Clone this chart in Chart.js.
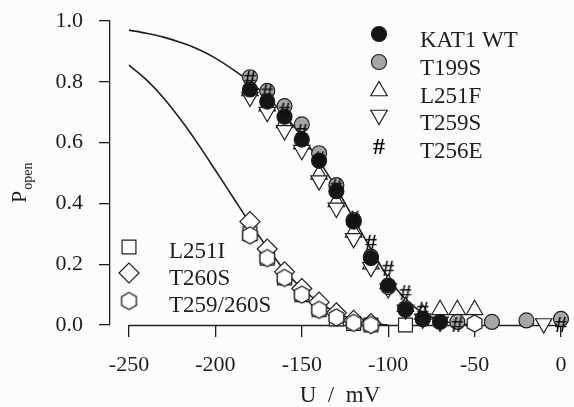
<!DOCTYPE html>
<html>
<head>
<meta charset="utf-8">
<script src="https://cdn.jsdelivr.net/npm/chart.js@4.4.0/dist/chart.umd.min.js"></script>
<style>
  html, body { margin: 0; padding: 0; background: #fcfcfc; }
  #wrap { width: 574px; height: 407px; }
</style>
</head>
<body>
<div id="wrap"><canvas id="chart" width="574" height="407"></canvas></div>
<script>
// ==================== DONNEES ====================

// tensions de mesure (mV)
const tensions = [-180, -170, -160, -150, -140, -130, -120, -110, -100, -90, -80, -70, -60, -50, -40, -30, -20, -10, 0];

const kat1WT  = [0.775, 0.735, 0.685, 0.61, 0.54, 0.44, 0.34, 0.22, 0.13, 0.05, 0.02, 0.01, null, null, null, null, null, null, null];
const t199S   = [0.815, 0.77, 0.72, 0.66, 0.565, 0.46, 0.345, 0.225, 0.125, 0.055, 0.02, null, 0.01, null, 0.01, null, 0.015, null, 0.02];
const l251F   = [0.77, 0.72, 0.665, 0.595, 0.495, 0.405, 0.305, 0.20, 0.135, 0.06, 0.035, 0.05, 0.05, 0.05, null, null, null, null, null];
const t259S   = [0.75, 0.70, 0.64, 0.575, 0.475, 0.385, 0.285, 0.19, 0.12, 0.05, 0.02, 0.01, null, null, null, null, null, 0.005, null];
const t256E   = [0.81, 0.765, 0.705, 0.635, 0.545, 0.455, 0.35, 0.27, 0.185, 0.105, 0.05, null, 0.0, null, null, null, null, null, 0.0];
const l251I   = [0.30, 0.22, 0.155, 0.10, 0.05, 0.02, 0.005, 0.0, null, 0.0, null, null, null, null, null, null, null, null, null];
const t260S   = [0.34, 0.25, 0.175, 0.12, 0.075, 0.04, 0.015, 0.005, null, null, null, null, null, null, null, null, null, null, null];
const t259260S = [0.295, 0.22, 0.155, 0.10, 0.05, 0.025, 0.007, 0.0, null, null, null, null, null, 0.005, null, null, null, null, null];

// courbes ajustees
const tensionsFit = [-250, -240, -230, -220, -210, -200, -190, -180, -170, -160, -150, -140, -130, -120, -110, -100, -90, -80, -70, -60, -50];
const fitHaut = [0.97, 0.96, 0.947, 0.929, 0.907, 0.878, 0.841, 0.80, 0.75, 0.69, 0.62, 0.54, 0.45, 0.35, 0.25, 0.155, 0.085, 0.04, 0.015, 0.005, 0.0];
const fitBas  = [0.855, 0.807, 0.747, 0.675, 0.595, 0.509, 0.422, 0.335, 0.255, 0.18, 0.12, 0.075, 0.04, 0.018, 0.006, 0.0, null, null, null, null, null];

const xTicks = [-250, -200, -150, -100, -50, 0];
const yTicks = [0, 0.2, 0.4, 0.6, 0.8, 1.0];

// ==================== MARQUEURS ====================

const INK = '#1e1e1e';
const SERIF = '"Liberation Serif", "DejaVu Serif", serif';

function makeHexagon(r) {
  const c = document.createElement('canvas');
  const s = Math.ceil(2 * r + 4);
  c.width = s; c.height = s;
  const g = c.getContext('2d');
  g.beginPath();
  for (let i = 0; i < 6; i++) {
    const a = -Math.PI / 2 + i * Math.PI / 3;
    const px = s / 2 + r * Math.cos(a), py = s / 2 + r * Math.sin(a);
    if (i === 0) g.moveTo(px, py); else g.lineTo(px, py);
  }
  g.closePath();
  g.fillStyle = '#ffffff';
  g.fill();
  g.lineWidth = 1.3;
  g.strokeStyle = INK;
  g.stroke();
  return c;
}

function makeHash() {
  const c = document.createElement('canvas');
  c.width = 26; c.height = 26;
  const g = c.getContext('2d');
  g.font = 'bold 24px ' + SERIF;
  g.fillStyle = '#111';
  g.textAlign = 'center';
  g.textBaseline = 'middle';
  g.fillText('#', 13, 14);
  return c;
}

const hexImg = makeHexagon(8.5);
const hashImg = makeHash();

function pts(values, xs) {
  const out = [];
  values.forEach((v, i) => { if (v !== null) out.push({ x: xs[i], y: v }); });
  return out;
}

function serie(label, values, style, order) {
  return {
    label: label,
    data: pts(values, tensions),
    showLine: false,
    pointStyle: style.pointStyle,
    pointRadius: style.radius,
    pointRotation: style.rotation || 0,
    pointBackgroundColor: style.fill,
    pointBorderColor: INK,
    pointBorderWidth: 1.2,
    clip: false,
    order: order
  };
}

const styles = {
  kat1: { pointStyle: 'circle', radius: 7.5, fill: '#151515' },
  t199: { pointStyle: 'circle', radius: 7.5, fill: '#a6a6a6' },
  l251F: { pointStyle: 'triangle', radius: 9.5, fill: '#ffffff' },
  t259: { pointStyle: 'triangle', radius: 9.5, rotation: 180, fill: '#ffffff' },
  t256: { pointStyle: hashImg, radius: 8, fill: '#111' },
  l251I: { pointStyle: 'rect', radius: 9.8, fill: '#ffffff' },
  t260: { pointStyle: 'rectRot', radius: 10, fill: '#ffffff' },
  t259260: { pointStyle: hexImg, radius: 8, fill: '#ffffff' }
};

function courbe(values) {
  return {
    data: pts(values, tensionsFit),
    showLine: true,
    pointRadius: 0,
    borderColor: INK,
    borderWidth: 1.6,
    cubicInterpolationMode: 'monotone',
    clip: false,
    order: 20
  };
}

// ==================== PLUGIN AXES + LEGENDES ====================

const legendeHaut = [
  { text: 'KAT1 WT', style: styles.kat1, my: 34, ty: 47 },
  { text: 'T199S', style: styles.t199, my: 62, ty: 75 },
  { text: 'L251F', style: styles.l251F, my: 91, ty: 103 },
  { text: 'T259S', style: styles.t259, my: 115, ty: 130 },
  { text: 'T256E', style: styles.t256, my: 147, ty: 158 }
];
const legendeBas = [
  { text: 'L251I', style: styles.l251I, my: 247, ty: 258 },
  { text: 'T260S', style: styles.t260, my: 273, ty: 285 },
  { text: 'T259/260S', style: styles.t259260, my: 301, ty: 312 }
];

const decor = {
  id: 'decor',
  beforeDatasetsDraw(chart) {
    const ctx = chart.ctx;
    const x = chart.scales.x;
    const y0 = chart.chartArea.bottom + 0.5;
    ctx.save();
    ctx.strokeStyle = INK;
    ctx.lineWidth = 1.3;
    ctx.beginPath();
    ctx.moveTo(x.getPixelForValue(xTicks[0]), y0);
    ctx.lineTo(x.getPixelForValue(xTicks[xTicks.length - 1]), y0);
    ctx.stroke();
    ctx.restore();
  },
  afterDraw(chart) {
    const ctx = chart.ctx;
    ctx.save();
    ctx.fillStyle = INK;
    ctx.textBaseline = 'alphabetic';

    // titre axe x
    ctx.font = '23px ' + SERIF;
    ctx.textAlign = 'center';
    ctx.fillText('U  /  mV', 340, 402);

    // titre axe y : P avec indice "open"
    ctx.save();
    ctx.translate(26, 203);
    ctx.rotate(-Math.PI / 2);
    ctx.textAlign = 'left';
    ctx.font = '22px ' + SERIF;
    ctx.fillText('P', 0, 0);
    const w = ctx.measureText('P').width;
    ctx.font = '14px ' + SERIF;
    ctx.fillText('open', w + 1, 6);
    ctx.restore();

    // legendes
    const dessiner = (liste, mx, tx) => {
      liste.forEach(item => {
        const s = item.style;
        ctx.fillStyle = s.fill;
        ctx.strokeStyle = INK;
        ctx.lineWidth = 1.2;
        Chart.helpers.drawPoint(ctx, {
          pointStyle: s.pointStyle, radius: s.radius, rotation: s.rotation || 0, borderWidth: 1.2
        }, mx, item.my);
        ctx.fillStyle = INK;
        ctx.font = '23px ' + SERIF;
        ctx.textAlign = 'left';
        ctx.fillText(item.text, tx, item.ty);
      });
    };
    dessiner(legendeHaut, 379, 420);
    dessiner(legendeBas, 129, 169);
    ctx.restore();
  }
};

// ==================== GRAPHIQUE ====================

const ctx = document.getElementById('chart').getContext('2d');
new Chart(ctx, {
  type: 'scatter',
  data: {
    datasets: [
      courbe(fitHaut),
      courbe(fitBas),
      serie('L251I', l251I, styles.l251I, 9),
      serie('T260S', t260S, styles.t260, 8),
      serie('L251F', l251F, styles.l251F, 7),
      serie('T259S', t259S, styles.t259, 6),
      serie('T199S', t199S, styles.t199, 5),
      serie('KAT1 WT', kat1WT, styles.kat1, 4),
      serie('T256E', t256E, styles.t256, 3),
      serie('T259/260S', t259260S, styles.t259260, 2)
    ]
  },
  options: {
    responsive: false,
    animation: false,
    events: [],
    layout: { autoPadding: false, padding: { top: 21, right: 13, left: 0, bottom: 0 } },
    plugins: { legend: { display: false }, tooltip: { enabled: false } },
    scales: {
      x: {
        type: 'linear',
        min: -261,
        max: 0,
        afterBuildTicks: s => { s.ticks = xTicks.map(v => ({ value: v })); },
        afterFit: s => { s.height = 82; },
        border: { display: false },
        grid: { drawOnChartArea: false, drawTicks: true, tickLength: 12, color: INK, lineWidth: 1.3 },
        // lineHeight large : pousse les etiquettes vers le bas sans marge laterale
        ticks: { color: INK, font: { family: SERIF, size: 22, lineHeight: 2.09 }, padding: 5, maxRotation: 0, autoSkip: false }
      },
      y: {
        min: 0,
        max: 1,
        afterBuildTicks: s => { s.ticks = yTicks.map(v => ({ value: v })); },
        afterFit: s => { s.width = 110; },
        border: { display: true, color: INK, width: 1.3 },
        grid: { drawOnChartArea: false, drawTicks: true, tickLength: 11, color: INK, lineWidth: 1.3 },
        ticks: { color: INK, font: { family: SERIF, size: 22, lineHeight: 0.4 }, padding: 16, callback: v => v.toFixed(1) }
      }
    }
  },
  plugins: [decor]
});
</script>
</body>
</html>
